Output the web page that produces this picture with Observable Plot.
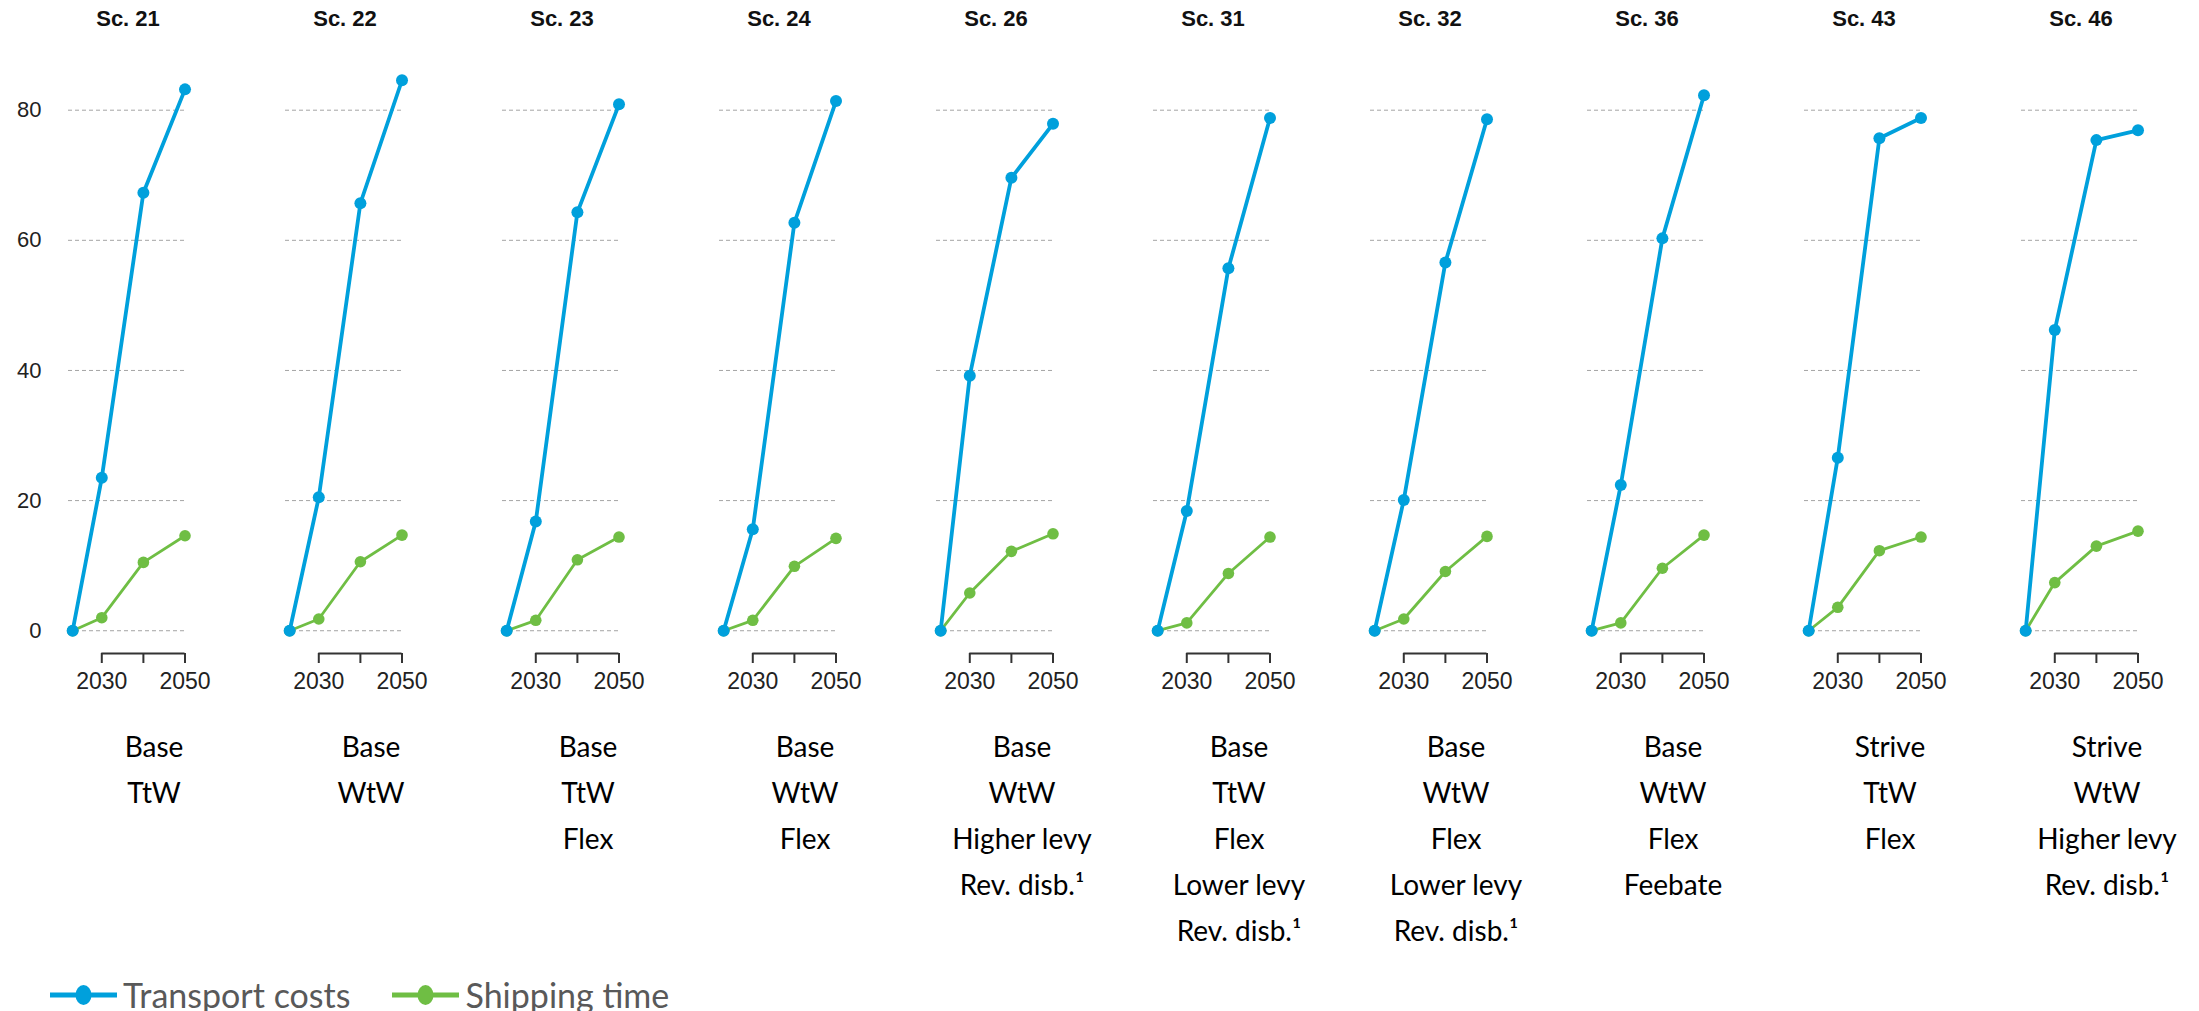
<!DOCTYPE html>
<html>
<head>
<meta charset="utf-8">
<script src="https://cdn.jsdelivr.net/npm/d3@7"></script>
<script src="https://cdn.jsdelivr.net/npm/@observablehq/plot@0.6"></script>
<style>
  body { margin: 0; background: #fff; overflow: hidden; }
  #chart svg { overflow: visible; }
  #legend { display: flex; align-items: center; height: 46px; margin-top: 22px; margin-left: 50px;
            font-family: Lato, "Open Sans", sans-serif; font-size: 34px; color: #595959; line-height: 1; }
  .item { display: flex; align-items: center; margin-right: 42px; }
  .item svg { margin-right: 6px; }
</style>
</head>
<body>
<div id="chart"></div>
<div id="legend"></div>
<script>
const scenarios = ["Sc. 21", "Sc. 22", "Sc. 23", "Sc. 24", "Sc. 26", "Sc. 31", "Sc. 32", "Sc. 36", "Sc. 43", "Sc. 46"];
const descriptions = [
  "Base\nTtW",
  "Base\nWtW",
  "Base\nTtW\nFlex",
  "Base\nWtW\nFlex",
  "Base\nWtW\nHigher levy\nRev. disb.¹",
  "Base\nTtW\nFlex\nLower levy\nRev. disb.¹",
  "Base\nWtW\nFlex\nLower levy\nRev. disb.¹",
  "Base\nWtW\nFlex\nFeebate",
  "Strive\nTtW\nFlex",
  "Strive\nWtW\nHigher levy\nRev. disb.¹"
];
const years = [2023, 2030, 2040, 2050];
const transportCosts = [
  [0, 23.5, 67.3, 83.2],
  [0, 20.5, 65.7, 84.6],
  [0, 16.8, 64.3, 80.9],
  [0, 15.6, 62.7, 81.4],
  [0, 39.2, 69.6, 77.9],
  [0, 18.4, 55.7, 78.8],
  [0, 20.1, 56.6, 78.6],
  [0, 22.4, 60.3, 82.3],
  [0, 26.6, 75.7, 78.8],
  [0, 46.2, 75.4, 76.9]
];
const shippingTime = [
  [0, 2.0, 10.5, 14.6],
  [0, 1.8, 10.6, 14.7],
  [0, 1.6, 10.9, 14.4],
  [0, 1.6, 9.9, 14.2],
  [0, 5.8, 12.2, 14.9],
  [0, 1.2, 8.8, 14.4],
  [0, 1.8, 9.1, 14.5],
  [0, 1.2, 9.6, 14.7],
  [0, 3.6, 12.3, 14.4],
  [0, 7.4, 13.0, 15.3]
];
const seriesNames = ["Transport costs", "Shipping time"];
const seriesColors = ["#00a0dc", "#6fbe44"];
const yTicks = [0, 20, 40, 60, 80];
const xTicks = [2030, 2040, 2050];
const xTickLabels = ["2030", "", "2050"];

const costRows = [], timeRows = [];
scenarios.forEach((sc, i) => {
  years.forEach((yr, j) => {
    costRows.push({scenario: sc, year: yr, value: transportCosts[i][j]});
    timeRows.push({scenario: sc, year: yr, value: shippingTime[i][j]});
  });
});
const descRows = scenarios.map((sc, i) => ({scenario: sc, desc: descriptions[i]}));
const yDomain = [-3.5, 86.1];

const chart = Plot.plot({
  width: 2199,
  height: 950,
  marginLeft: 66,
  marginRight: 57,
  marginTop: 70,
  marginBottom: 297,
  style: {fontFamily: "'Liberation Sans', Arial, sans-serif", background: "#fff", overflow: "visible"},
  fx: {domain: scenarios, paddingInner: 0.4526, paddingOuter: 0, label: null},
  x: {domain: [2022, 2050.6]},
  y: {domain: yDomain},
  marks: [
    Plot.gridY({ticks: yTicks, stroke: "#9a9a9a", strokeOpacity: 0.9, strokeWidth: 1, strokeDasharray: "4,3"}),
    Plot.axisY({ticks: yTicks, tickSize: 0, tickPadding: 27, fontSize: 22, fill: "#222", label: null}),
    Plot.axisX({ticks: xTicks, tickSize: 10, tickPadding: 9, stroke: "#333", strokeWidth: 2, fontSize: 23, fill: "#222",
                tickFormat: d => xTickLabels[xTicks.indexOf(d)], label: null}),
    Plot.ruleY([yDomain[0]], {x1: xTicks[0], x2: xTicks[xTicks.length - 1], stroke: "#333", strokeWidth: 2}),
    Plot.axisFx({anchor: "top", tickSize: 0, tickPadding: 45, fontSize: 22, fontWeight: "bold", fill: "#111", label: null}),
    Plot.line(timeRows, {fx: "scenario", x: "year", y: "value", stroke: seriesColors[1], strokeWidth: 2.8}),
    Plot.dot(timeRows, {fx: "scenario", x: "year", y: "value", fill: seriesColors[1], r: 5.8}),
    Plot.line(costRows, {fx: "scenario", x: "year", y: "value", stroke: seriesColors[0], strokeWidth: 3.8}),
    Plot.dot(costRows, {fx: "scenario", x: "year", y: "value", fill: seriesColors[0], r: 6}),
    Plot.text(descRows, {fx: "scenario", text: "desc", frameAnchor: "bottom", lineAnchor: "top", dx: 26, dy: 71,
                         fontSize: 28, lineHeight: 1.64, fontFamily: "Lato, 'Open Sans', sans-serif", fill: "#000"})
  ]
});
document.getElementById("chart").appendChild(chart);

const legend = document.getElementById("legend");
seriesNames.forEach((name, i) => {
  const item = document.createElement("div");
  item.className = "item";
  item.innerHTML = `<svg width="67" height="26"><line x1="0" y1="13" x2="67" y2="13" stroke="${seriesColors[i]}" stroke-width="5" stroke-linecap="round"/><ellipse cx="33.5" cy="13" rx="8" ry="10" fill="${seriesColors[i]}"/></svg><span>${name}</span>`;
  legend.appendChild(item);
});
</script>
</body>
</html>
